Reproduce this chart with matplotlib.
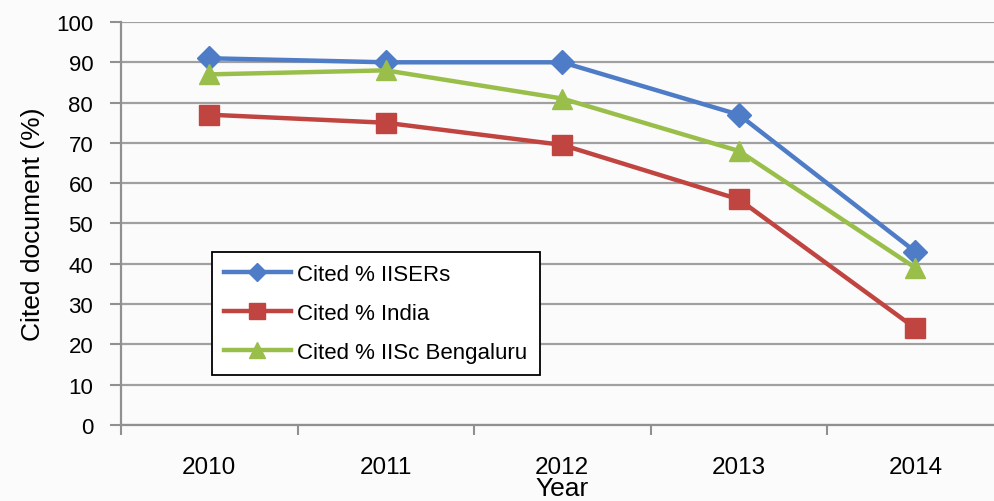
import matplotlib
matplotlib.use("Agg")
import matplotlib.pyplot as plt

years = ["2010", "2011", "2012", "2013", "2014"]
iisers = [91, 90, 90, 77, 43]
india = [77, 75, 69.5, 56, 24]
iisc = [87, 88, 81, 68, 39]

plt.rcParams['font.family'] = ['Liberation Sans', 'DejaVu Sans']

fig = plt.figure(figsize=(9.94, 5.02), dpi=100)
fig.patch.set_facecolor('#fbfbfb')
# axes runs a little past the right edge of the figure
ax = fig.add_axes([0.1217, 0.1514, 0.888, 0.8028])
ax.set_facecolor('#fbfbfb')

x = range(len(years))
ax.plot(x, iisers, color='#4f7cc6', lw=3.2, marker='D', ms=12, label='Cited % IISERs')
ax.plot(x, india, color='#c0443f', lw=3.2, marker='s', ms=15, label='Cited % India')
ax.plot(x, iisc, color='#99bf4a', lw=3.2, marker='^', ms=15, label='Cited % IISc Bengaluru')

ax.set_xlim(-0.5, len(years) - 0.5)
ax.set_ylim(0, 100)
ax.set_yticks(range(0, 101, 10))
ax.yaxis.grid(True, color='#a0a0a0', lw=1.6)
ax.set_axisbelow(True)

ax.set_xticks(list(x))
ax.set_xticklabels(years, fontsize=17.5)
ax.set_xticks([i + 0.5 for i in range(-1, len(years))], minor=True)
ax.tick_params(axis='x', which='major', length=0, pad=22)
ax.tick_params(axis='x', which='minor', length=7, width=1.5, color='#909090', direction='out')
ax.tick_params(axis='y', length=8, width=1.5, color='#909090', labelsize=16, pad=12)

for s in ['top', 'right']:
    ax.spines[s].set_visible(False)
for s in ['left', 'bottom']:
    ax.spines[s].set_color('#909090')
    ax.spines[s].set_linewidth(1.6)

ax.set_ylabel('Cited document (%)', fontsize=19, labelpad=8)
ax.set_xlabel('Year', fontsize=19, labelpad=-1)

leg = ax.legend(loc='lower left', bbox_to_anchor=(0.103, 0.124), borderaxespad=0,
                fontsize=16, handlelength=3.0, labelspacing=0.8, fancybox=False,
                framealpha=1, edgecolor='black', borderpad=0.55, handletextpad=0.3,
                markerscale=0.8)
leg.get_frame().set_linewidth(1.3)
leg.get_frame().set_facecolor('white')

fig.savefig('out.png', dpi=100, facecolor=fig.get_facecolor())
